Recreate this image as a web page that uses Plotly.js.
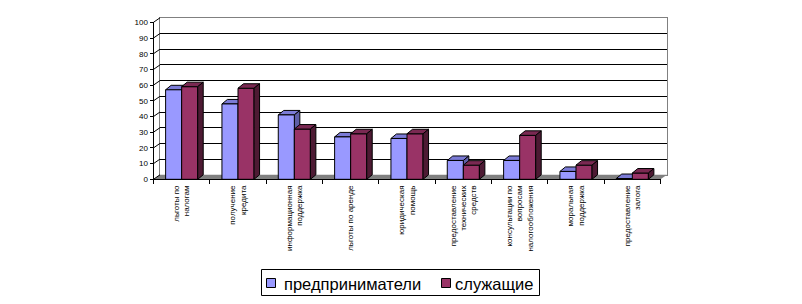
<!DOCTYPE html>
<html>
<head>
<meta charset="utf-8">
<script src="https://cdn.plot.ly/plotly-3.0.1.min.js"></script>
<style>html,body{margin:0;padding:0;background:#fff;}#chart{width:802px;height:304px;}</style>
</head>
<body>
<div id="chart"></div>
<script>
// ---- data ----
const categories = [
  "льготы по<br>налогам",
  "получение<br>кредита",
  "информационная<br>поддержка",
  "льготы по аренде",
  "юридическая<br>помощь",
  "предоставление<br>технических<br>средств",
  "консультации по<br>вопросам<br>налогообложения",
  "моральная<br>поддержка",
  "предоставление<br>залога"
];
const seriesNames = ["предприниматели", "служащие"];
const entrepreneurs = [57, 48, 41, 27, 26, 12, 12, 5, 0.5];
const employees = [59, 58, 32, 29, 29, 9, 28, 9, 4];
const yTickVals = [0, 10, 20, 30, 40, 50, 60, 70, 80, 90, 100];

// ---- geometry / style ----
const W = 802, H = 304;
const FX0 = 153.5, FX1 = 660.5;   // front x-axis extent (px)
const FY0 = 179.3, FY1 = 22.3;    // front y=0 and y=100 (px)
const DX = 6.5, DY = 4.5;         // wall depth offset
const BDX = 5.5, BDY = 4.5;       // bar depth offset
const BARW = 0.285;               // bar width in category units
const nCat = categories.length;
const pxPerCat = (FX1 - FX0) / nCat;
const pxPerUnit = (FY0 - FY1) / 100;
const bw = BARW * pxPerCat;
const colors = {
  blue: {front: "#9999FF", top: "#7B7BD6", side: "#5E5EA6"},
  red:  {front: "#993366", top: "#7A2952", side: "#4D1A33"}
};
const seriesColors = [colors.blue.front, colors.red.front];
const xIdx = categories.map((c, i) => i);

function face(xa, ya, pts, fill, layer) {
  return {
    type: "path", xref: "x2", yref: "y2",
    xsizemode: "pixel", ysizemode: "pixel",
    xanchor: xa, yanchor: ya,
    path: "M" + pts.map(p => p[0].toFixed(2) + "," + p[1].toFixed(2)).join(" L") + " Z",
    fillcolor: fill, line: {color: "black", width: 1}, layer: layer
  };
}
const px = x => x / W, py = y => 1 - y / H;

const shapes = [];
// floor
shapes.push({
  type: "path", xref: "paper", yref: "paper", layer: "below",
  path: "M" + px(FX0) + "," + py(FY0) + " L" + px(FX1) + "," + py(FY0) +
        " L" + px(FX1 + DX) + "," + py(FY0 - DY) + " L" + px(FX0 + DX) + "," + py(FY0 - DY) + " Z",
  fillcolor: "#808080", line: {width: 0}
});
// diagonal tick connectors from front axis to the wall
yTickVals.forEach(v => {
  const yp = FY0 - v * pxPerUnit;
  shapes.push({
    type: "line", xref: "paper", yref: "paper", layer: "above",
    x0: px(FX0), y0: py(yp), x1: px(FX0 + DX), y1: py(yp - DY),
    line: {color: "black", width: 1}
  });
});
// 3D faces
xIdx.forEach(i => {
  const b = entrepreneurs[i], r = employees[i];
  const bh = b * pxPerUnit, rh = r * pxPerUnit;
  shapes.push(face(i - BARW, b, [[0, 0], [bw, 0], [bw + BDX, BDY], [BDX, BDY]], colors.blue.top, "below"));
  shapes.push(face(i, 0, [[0, 0], [0, bh], [BDX, bh + BDY], [BDX, BDY]], colors.blue.side, "below"));
  shapes.push(face(i, r, [[0, 0], [bw, 0], [bw + BDX, BDY], [BDX, BDY]], colors.red.top, "above"));
  shapes.push(face(i + BARW, 0, [[0, 0], [0, rh], [BDX, rh + BDY], [BDX, BDY]], colors.red.side, "above"));
});

// legend (box, swatches, labels)
const LEG = {x0: 261.5, x1: 539.5, y0: 269.5, y1: 295.5, sw: [266.5, 441.5], tx: [282, 453], sy: 278.5, ss: 9, ty: 284};
shapes.push({type: "rect", xref: "paper", yref: "paper", layer: "above",
  x0: px(LEG.x0), x1: px(LEG.x1), y0: py(LEG.y1), y1: py(LEG.y0),
  fillcolor: "#ffffff", line: {color: "black", width: 1}});
const annotations = [];
seriesNames.forEach((name, k) => {
  shapes.push({type: "rect", xref: "paper", yref: "paper", layer: "above",
    x0: px(LEG.sw[k]), x1: px(LEG.sw[k] + LEG.ss), y0: py(LEG.sy + LEG.ss), y1: py(LEG.sy),
    fillcolor: seriesColors[k], line: {color: "black", width: 1}});
  annotations.push({xref: "paper", yref: "paper", x: px(LEG.tx[k]), y: py(LEG.ty),
    xanchor: "left", yanchor: "middle", showarrow: false, text: name,
    font: {size: 16.5, family: "Arial, Liberation Sans, sans-serif", color: "black"}});
});

const traces = [
  // invisible trace that makes the back-wall subplot render
  {type: "scatter", x: [0.5], y: [50], xaxis: "x", yaxis: "y", mode: "markers",
   marker: {opacity: 0, size: 1}, showlegend: false, hoverinfo: "skip"},
  {type: "bar", name: seriesNames[0], x: xIdx, y: entrepreneurs, xaxis: "x2", yaxis: "y2",
   width: BARW, offset: -BARW, marker: {color: colors.blue.front, line: {color: "black", width: 1}}, hoverinfo: "skip"},
  {type: "bar", name: seriesNames[1], x: xIdx, y: employees, xaxis: "x2", yaxis: "y2",
   width: BARW, offset: 0, marker: {color: colors.red.front, line: {color: "black", width: 1}}, hoverinfo: "skip"}
];

const layout = {
  width: W, height: H,
  margin: {l: 0, r: 0, t: 0, b: 0},
  paper_bgcolor: "#ffffff", plot_bgcolor: "rgba(0,0,0,0)",
  showlegend: false, barmode: "group",
  font: {family: "Arial, Liberation Sans, sans-serif", color: "black"},
  // back wall
  xaxis: {domain: [px(FX0 + DX), px(FX1 + DX)], anchor: "y", range: [0, 1], showgrid: false, zeroline: false,
          showline: true, linecolor: "#808080", linewidth: 1, mirror: true, showticklabels: false, ticks: "", fixedrange: true},
  yaxis: {domain: [py(FY0 - DY), py(FY1 - DY)], anchor: "x", range: [0, 100],
          tickmode: "array", tickvals: yTickVals,
          showgrid: true, gridcolor: "black", gridwidth: 1, zeroline: false,
          showline: true, linecolor: "#808080", linewidth: 1, mirror: true, showticklabels: false, ticks: "", fixedrange: true},
  // front axes with the bars
  xaxis2: {domain: [px(FX0), px(FX1)], anchor: "y2", range: [-0.5, nCat - 0.5],
           tickmode: "array", tickvals: xIdx, ticktext: categories, tickangle: -90, ticklabelstandoff: 2,
           tickfont: {size: 8, family: "Arial, Liberation Sans, sans-serif"},
           ticks: "", showgrid: false, zeroline: false, showline: true, linecolor: "black", linewidth: 1,
           minor: {tickmode: "array", tickvals: categories.map((c, i) => i - 0.5).concat([nCat - 0.5]),
                   ticks: "outside", ticklen: 4, tickcolor: "black", showgrid: false},
           fixedrange: true},
  yaxis2: {domain: [py(FY0), py(FY1)], anchor: "x2", range: [0, 100],
           tickmode: "array", tickvals: yTickVals, ticks: "outside", ticklen: 3, tickcolor: "black",
           tickfont: {size: 8, family: "Arial, Liberation Sans, sans-serif"},
           showgrid: false, zeroline: false, showline: true, linecolor: "black", linewidth: 1, fixedrange: true},
  shapes: shapes,
  annotations: annotations
};

Plotly.newPlot("chart", traces, layout, {staticPlot: true, displayModeBar: false});
</script>
</body>
</html>
